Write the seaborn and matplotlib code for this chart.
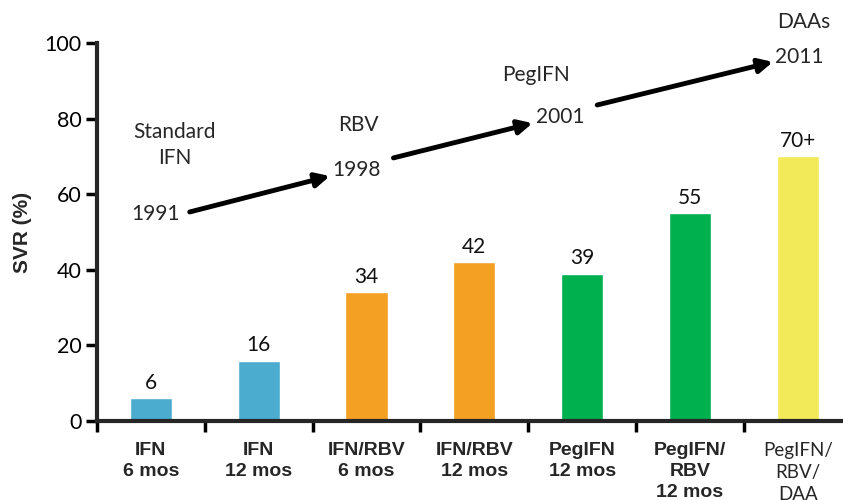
import matplotlib
matplotlib.use("Agg")
import matplotlib.pyplot as plt
from matplotlib.ticker import FixedLocator
import seaborn as sns
import pandas as pd

# ─── data ─────────────────────────────────────────────────────────────────────
regimens = ["IFN\n6 mos", "IFN\n12 mos", "IFN/RBV\n6 mos", "IFN/RBV\n12 mos",
            "PegIFN\n12 mos", "PegIFN/\nRBV\n12 mos", "PegIFN/\nRBV/\nDAA"]
svr = [6, 16, 34, 42, 39, 55, 70]
svr_labels = ["6", "16", "34", "42", "39", "55", "70+"]
bar_colors = ["#4BACCF", "#4BACCF", "#F4A023", "#F4A023",
              "#00B04F", "#00B04F", "#F2EA58"]

# milestones: (drug, year)
milestones = [("Standard\nIFN", "1991"), ("RBV", "1998"),
              ("PegIFN", "2001"), ("DAAs", "2011")]

# ─── style ────────────────────────────────────────────────────────────────────
sns.set_theme(style="ticks")
plt.rcParams["font.family"] = ["Lato", "DejaVu Sans"]
LIGHT = "Lato"
BOLD = "Liberation Sans"

df = pd.DataFrame({"regimen": regimens, "svr": svr})

fig = plt.figure(figsize=(8.43, 5.0), dpi=100)
ax = fig.add_axes([97 / 843, 79 / 500, 746 / 843, 378 / 500])

sns.barplot(data=df, x="regimen", y="svr", hue="regimen", palette=bar_colors,
            width=0.39, legend=False, saturation=1, ax=ax)

for cont, lab in zip(ax.containers, svr_labels):
    ax.bar_label(cont, labels=[lab], padding=4, fontsize=15, family=LIGHT, color="#111111")

ax.set_xlim(-0.5, 6.42)
ax.set_ylim(0, 100)
ax.set_yticks([0, 20, 40, 60, 80, 100])
ax.tick_params(axis="y", length=8, width=2.5, labelsize=15.5, pad=3, colors="black")
for t in ax.get_yticklabels():
    t.set_family(LIGHT)

# category boundaries as downward ticks, labels at centres
ax.xaxis.set_minor_locator(FixedLocator([i - 0.5 for i in range(len(regimens))]))
ax.tick_params(axis="x", which="minor", length=8, width=2.5, direction="out", color="black")
ax.tick_params(axis="x", which="major", length=0, pad=15)
ax.set_xticks(range(len(regimens)))
ax.set_xticklabels(regimens)
for i, t in enumerate(ax.get_xticklabels()):
    if i < len(regimens) - 1:
        t.set_family(BOLD)
        t.set_fontweight("bold")
        t.set_fontsize(14)
        t.set_linespacing(1.3)
    else:
        t.set_family(LIGHT)
        t.set_fontsize(13.5)
        t.set_linespacing(1.35)
    t.set_verticalalignment("top")

sns.despine(ax=ax)
ax.spines["left"].set_linewidth(3)
ax.spines["bottom"].set_linewidth(3)
ax.set_xlabel("")
ax.set_ylabel("SVR (%)", fontsize=15, fontweight="bold", family=BOLD, labelpad=9)

# ─── timeline arrows ─────────────────────────────────────────────────────────
drug_xy = [(0.22, 73.0), (1.92, 78.3), (3.57, 91.5), (6.06, 105.6)]
year_xy = [(0.04, 54.8), (1.91, 66.4), (3.80, 80.4), (6.01, 96.3)]
arrows = [((0.36, 55.3), (1.66, 64.8)),
          ((2.25, 69.6), (3.54, 78.8)),
          ((4.14, 83.6), (5.77, 95.0))]

for (drug, year), dxy, yxy in zip(milestones, drug_xy, year_xy):
    ax.text(*dxy, drug, ha="center", va="center", fontsize=15, family=LIGHT,
            linespacing=1.4, clip_on=False)
    ax.text(*yxy, year, ha="center", va="center", fontsize=15, family=LIGHT,
            clip_on=False)
for start, end in arrows:
    ax.annotate("", xy=end, xytext=start,
                arrowprops=dict(arrowstyle="-|>,head_length=0.7,head_width=0.35",
                                lw=3.5, color="black", shrinkA=0, shrinkB=0),
                annotation_clip=False)

fig.savefig("out.png", dpi=100)
